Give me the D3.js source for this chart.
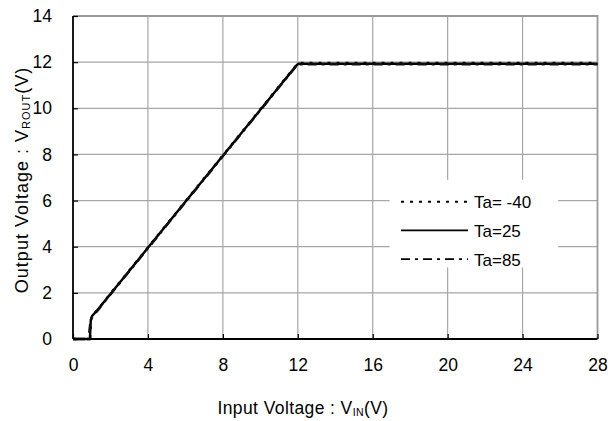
<!DOCTYPE html>
<html>
<head>
<meta charset="utf-8">
<script src="https://cdn.jsdelivr.net/npm/d3@7"></script>
<style>
  body { margin: 0; background: #fff; }
  svg text { font-family: "Liberation Sans", Arial, sans-serif; fill: #000; }
</style>
</head>
<body>
<div id="chart"></div>
<script>
// ticks
var xTicks = [0, 4, 8, 12, 16, 20, 24, 28];
var yTicks = [0, 2, 4, 6, 8, 10, 12, 14];

// series : [Vin, Vrout]
var vinM40 = [[0, 0], [0.92, 0], [0.96, 0.85], [1.05, 1.05], [1.3, 1.25], [2, 1.97], [4, 3.97], [8, 7.96], [11.95, 11.9], [12.05, 11.96], [28, 11.96]];
var vin25  = [[0, 0], [0.9, 0], [0.95, 0.8], [1.02, 1.0], [1.25, 1.2], [2, 1.95], [4, 3.95], [8, 7.94], [11.95, 11.88], [12.05, 11.93], [28, 11.93]];
var vin85  = [[0, 0], [0.85, 0], [0.88, 0.4], [0.95, 0.85], [1.05, 1.0], [1.3, 1.22], [2, 1.93], [4, 3.93], [8, 7.92], [11.95, 11.86], [12.05, 11.91], [28, 11.91]];

var legendNames = ["Ta= -40", "Ta=25", "Ta=85"];
var legendDash = ["3,6", null, "9,5,3,5"];
var allSeries = [vinM40, vin25, vin85];

var W = 610, H = 421;
var margin = {left: 73, right: 12.5, top: 16, bottom: 82};

var svg = d3.select("#chart").append("svg")
    .attr("width", W)
    .attr("height", H);

var x = d3.scaleLinear().domain([0, 28]).range([margin.left, W - margin.right]);
var y = d3.scaleLinear().domain([0, 14]).range([H - margin.bottom, margin.top]);

// grid
svg.append("g").selectAll("line.gx")
    .data(xTicks.slice(1, -1))
    .join("line")
    .attr("x1", d => x(d)).attr("x2", d => x(d))
    .attr("y1", y(14)).attr("y2", y(0))
    .attr("stroke", "#a6a6a6").attr("stroke-width", 1.2);

svg.append("g").selectAll("line.gy")
    .data(yTicks.slice(1, -1))
    .join("line")
    .attr("x1", x(0)).attr("x2", x(28))
    .attr("y1", d => y(d)).attr("y2", d => y(d))
    .attr("stroke", "#a6a6a6").attr("stroke-width", 1.2);

// top / right frame
svg.append("path")
    .attr("d", "M" + x(0) + "," + y(14) + "H" + x(28) + "V" + y(0))
    .attr("fill", "none")
    .attr("stroke", "#9a9a9a")
    .attr("stroke-width", 1.8);

// legend box (hides grid)
var lg = svg.append("g");
lg.append("rect")
    .attr("x", x(16.9)).attr("y", y(6.9))
    .attr("width", x(25.9) - x(16.9))
    .attr("height", y(3.1) - y(6.9))
    .attr("fill", "#fff");

// lines
var line = d3.line().x(d => x(d[0])).y(d => y(d[1]));
svg.append("g").selectAll("path")
    .data(allSeries)
    .join("path")
    .attr("d", line)
    .attr("fill", "none")
    .attr("stroke", (d, i) => i == 1 ? "#000" : "#111")
    .attr("stroke-width", 2.4)
    .attr("stroke-dasharray", (d, i) => legendDash[i]);

// axes
var xAxis = d3.axisBottom(x).tickValues(xTicks).tickSize(-5).tickPadding(20);
var gx = svg.append("g")
    .attr("transform", "translate(0," + y(0) + ")")
    .call(xAxis);
gx.select(".domain").attr("stroke", "#000").attr("stroke-width", 1.8).attr("d", "M" + x(0) + ",0H" + x(28));
gx.selectAll(".tick line").attr("stroke", "#000").attr("stroke-width", 1.2);
gx.selectAll(".tick text").attr("font-size", 17.5).attr("font-family", "Liberation Sans, Arial, sans-serif");

var yAxis = d3.axisLeft(y).tickValues(yTicks).tickSize(-5).tickPadding(21);
var gy = svg.append("g")
    .attr("transform", "translate(" + x(0) + ",0)")
    .call(yAxis);
gy.select(".domain").attr("stroke", "#000").attr("stroke-width", 1.8).attr("d", "M0," + y(14) + "V" + y(0));
gy.selectAll(".tick line").attr("stroke", "#000").attr("stroke-width", 1.2);
gy.selectAll(".tick text").attr("font-size", 17.5).attr("font-family", "Liberation Sans, Arial, sans-serif");

// legend entries
legendNames.forEach(function(name, i) {
    var yy = y(5.95) + i * 28.7;
    lg.append("line")
        .attr("x1", 401).attr("x2", 468)
        .attr("y1", yy).attr("y2", yy)
        .attr("stroke", "#000")
        .attr("stroke-width", 1.8)
        .attr("stroke-dasharray", legendDash[i]);
    lg.append("text")
        .attr("x", 474).attr("y", yy + 6.5)
        .attr("font-size", 17)
        .text(name);
});

// axis titles
var xt = svg.append("text")
    .attr("x", 303).attr("y", 414)
    .attr("text-anchor", "middle")
    .attr("font-size", 17.5)
    .attr("letter-spacing", 0.4);
xt.append("tspan").text("Input Voltage : V");
xt.append("tspan").attr("font-size", 10.5).attr("dy", 2).text("IN");
xt.append("tspan").attr("dy", -2).text("(V)");

var yt = svg.append("text")
    .attr("transform", "translate(28,180) rotate(-90)")
    .attr("text-anchor", "middle")
    .attr("font-size", 18)
    .attr("letter-spacing", 1);
yt.append("tspan").text("Output Voltage : V");
yt.append("tspan").attr("font-size", 11).attr("dy", 2).text("ROUT");
yt.append("tspan").attr("dy", -2).text("(V)");
</script>
</body>
</html>
